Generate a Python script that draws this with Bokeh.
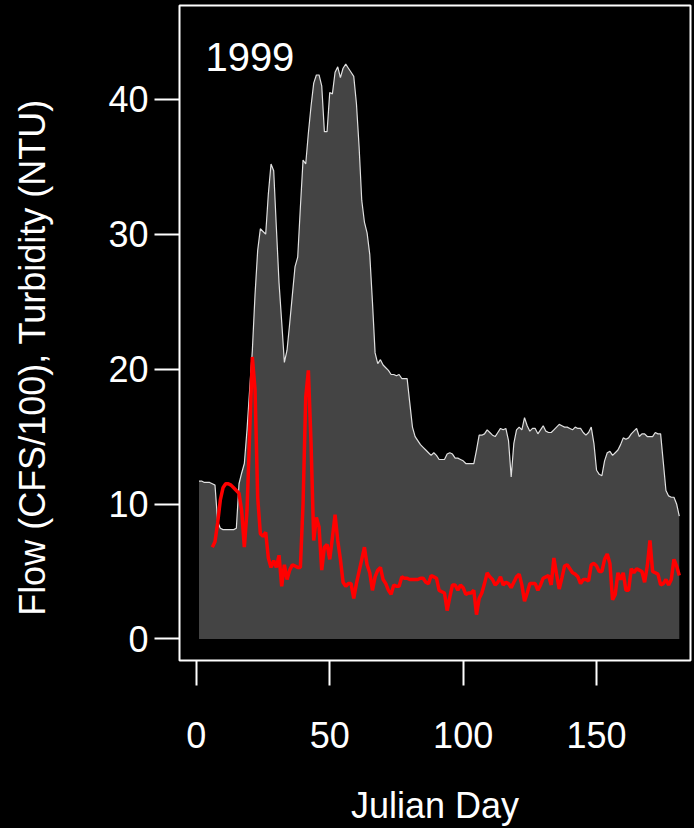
import math
from bokeh.plotting import figure
from bokeh.layouts import row
from bokeh.models import Range1d, Label, FixedTicker
from bokeh.core.properties import value
from bokeh.embed import file_html
from bokeh.resources import INLINE

# ---- data ----
flow_day = list(range(1, 182))
flow_val = [
    11.7, 11.7, 11.6, 11.6, 11.6, 11.5, 11.4, 8.7, 8.2, 8.1,
    8.1, 8.1, 8.1, 8.1, 8.2, 11.5, 12.3, 13.0, 15.5, 18.5,
    21.4, 25.5, 28.8, 30.4, 30.2, 30.0, 33.0, 35.2, 34.7, 30.5,
    26.4, 23.5, 20.5, 21.4, 23.4, 25.5, 27.6, 28.3, 32.0, 35.5,
    35.2, 37.5, 39.5, 41.2, 41.8, 41.8, 41.0, 37.6, 37.6, 40.5,
    40.4, 42.0, 42.4, 41.6, 42.3, 42.6, 42.3, 42.0, 41.7, 39.7,
    36.5, 32.5, 30.9, 30.1, 28.5, 25.0, 21.2, 20.4, 20.7, 20.3,
    20.1, 19.9, 19.6, 19.6, 19.5, 19.6, 19.3, 19.3, 19.3, 17.5,
    15.7, 15.0, 14.7, 14.4, 14.2, 14.0, 13.8, 13.6, 13.8, 13.6,
    13.3, 13.3, 13.3, 13.7, 13.8, 13.7, 13.4, 13.4, 13.3, 13.2,
    13.0, 13.0, 13.0, 13.0, 14.0, 15.1, 15.1, 15.2, 15.5, 15.3,
    15.1, 15.0, 15.3, 15.6, 15.5, 15.6, 14.7, 12.0, 14.5, 15.5,
    15.7, 15.5, 16.4, 15.8, 15.4, 15.6, 15.6, 15.2, 15.5, 15.8,
    15.4, 15.3, 15.3, 15.5, 15.7, 15.9, 15.8, 15.7, 15.7, 15.6,
    15.5, 15.7, 15.6, 15.6, 15.3, 15.1, 15.3, 15.7, 14.5, 12.5,
    12.2, 12.1, 13.2, 13.8, 13.9, 13.6, 13.8, 14.0, 14.4, 14.9,
    14.8, 14.9, 15.2, 15.4, 15.6, 15.0, 15.2, 15.2, 15.0, 15.0,
    15.0, 15.3, 15.2, 15.2, 13.1, 11.0, 10.6, 10.5, 10.5, 10.0,
    9.1,
]

turb_day = list(range(6, 182))
turb_val = [
    6.8, 7.2, 8.6, 10.3, 11.2, 11.5, 11.5, 11.4, 11.2, 11.0,
    10.8, 9.5, 6.8, 9.5, 15.3, 20.9, 18.5, 10.5, 7.8, 7.6,
    7.9, 6.0, 5.3, 5.8, 5.3, 6.2, 3.9, 5.5, 4.4, 5.1,
    5.5, 5.4, 5.3, 5.3, 10.0, 17.9, 19.9, 14.5, 7.3, 9.0,
    8.3, 5.1, 6.8, 7.0, 5.9, 7.5, 9.2, 7.3, 5.9, 4.2,
    3.9, 4.1, 4.1, 3.0, 4.1, 5.0, 5.9, 6.8, 5.5, 4.9,
    3.6, 4.6, 5.1, 5.3, 4.4, 4.1, 3.6, 3.3, 4.0, 3.9,
    3.9, 4.6, 4.5, 4.5, 4.4, 4.4, 4.4, 4.4, 4.5, 4.5,
    4.2, 4.1, 4.7, 4.6, 4.5, 3.6, 3.5, 3.4, 2.1, 3.1,
    4.0, 4.0, 3.6, 4.0, 3.8, 3.3, 3.4, 3.4, 3.6, 1.8,
    3.0, 3.4, 4.1, 4.9, 4.6, 4.4, 4.0, 4.2, 4.6, 4.0,
    4.2, 4.1, 3.8, 4.2, 4.6, 4.8, 4.0, 2.8, 3.4, 4.1,
    4.1, 4.1, 3.6, 4.0, 4.5, 4.6, 4.7, 4.0, 6.0, 4.8,
    3.7, 4.5, 5.4, 5.5, 5.2, 4.9, 4.8, 4.6, 4.1, 4.4,
    4.4, 4.3, 5.5, 5.6, 5.4, 5.0, 5.0, 5.9, 6.3, 5.6,
    2.9, 3.3, 4.9, 4.4, 4.9, 3.6, 3.6, 5.2, 4.9, 5.2,
    5.1, 5.0, 4.2, 5.4, 7.3, 5.0, 4.9, 4.8, 4.0, 4.1,
    4.4, 4.0, 4.4, 5.9, 5.4, 4.7,
]

x_ticks = [0, 50, 100, 150]
y_ticks = [0, 10, 20, 30, 40]
year_label = "1999"
x_title = "Julian Day"
y_title = "Flow (CFS/100), Turbidity (NTU)"

FONT = "Liberation Sans"
LEFT_W = 64
TOTAL_W, TOTAL_H = 694, 828
BORDER_TOP, BORDER_BOTTOM = 5, 168

# ---- narrow strip holding the rotated y-axis title ----
# its frame lines up with the main frame; y range = pixels measured from canvas bottom
lab = figure(
    width=LEFT_W, height=TOTAL_H,
    x_range=Range1d(0, LEFT_W), y_range=Range1d(BORDER_BOTTOM, TOTAL_H - BORDER_TOP),
    x_axis_type=None, y_axis_type=None,
    output_backend="svg", toolbar_location=None,
    min_border=0, min_border_left=0, min_border_right=0,
    min_border_top=BORDER_TOP, min_border_bottom=BORDER_BOTTOM,
    background_fill_color="black", border_fill_color="black",
    outline_line_color=None,
)
lab.xgrid.visible = False
lab.ygrid.visible = False
lab.text(x=[32], y=[471], text=[y_title], angle=math.pi / 2,
         text_color="white", text_font=value(FONT), text_font_size="36px",
         text_align="center", text_baseline="middle")

# ---- main chart ----
p = figure(
    width=TOTAL_W - LEFT_W, height=TOTAL_H,
    x_range=Range1d(-6.3, 185.2), y_range=Range1d(-1.6, 46.95),
    output_backend="svg", toolbar_location=None,
    min_border_left=179 - LEFT_W, min_border_right=4,
    min_border_top=BORDER_TOP, min_border_bottom=BORDER_BOTTOM,
    background_fill_color="black", border_fill_color="black",
)
p.outline_line_color = "white"
p.outline_line_width = 2
p.xgrid.visible = False
p.ygrid.visible = False

p.varea(x=flow_day, y1=0, y2=flow_val, fill_color="#444444")
p.line(flow_day, flow_val, line_color="#e0e0e0", line_width=1.2)
p.line(turb_day, turb_val, line_color="#ff0000", line_width=3.5)

p.add_layout(Label(x=3.4, y=43.1, text=year_label, text_color="white",
                   text_font=FONT, text_font_size="40px",
                   text_align="left", text_baseline="alphabetic"))

for ax in (p.xaxis[0], p.yaxis[0]):
    ax.axis_line_color = None
    ax.major_tick_line_color = "white"
    ax.major_tick_line_width = 2
    ax.major_tick_out = 25
    ax.major_tick_in = 0
    ax.minor_tick_line_color = None
    ax.major_label_text_color = "white"
    ax.major_label_text_font = FONT
    ax.major_label_text_font_size = "36px"
    ax.axis_label_text_color = "white"
    ax.axis_label_text_font = FONT
    ax.axis_label_text_font_size = "36px"
    ax.axis_label_text_font_style = "normal"

p.xaxis[0].ticker = FixedTicker(ticks=x_ticks)
p.yaxis[0].ticker = FixedTicker(ticks=y_ticks)
p.xaxis[0].axis_label = x_title
p.xaxis[0].major_label_standoff = 36
p.xaxis[0].axis_label_standoff = 34
p.yaxis[0].major_label_standoff = 6

layout = row(lab, p, spacing=0)
html = file_html(layout, INLINE)
html = html.replace("</head>", "<style>html,body{margin:0;background:#000;}</style></head>", 1)
open("out.html", "w").write(html)
